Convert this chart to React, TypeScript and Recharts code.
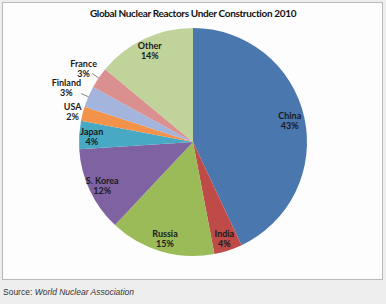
import React from "react";
import { PieChart, Pie, Cell } from "recharts";

const countries = ["China", "India", "Russia", "S. Korea", "Japan", "USA", "Finland", "France", "Other"];
const shares = [43, 4, 15, 12, 4, 2, 3, 3, 14];

const COLORS = ["#4A77AE", "#BE4B48", "#9ABB57", "#7E62A1", "#48A9C4", "#F3924A", "#A3B5DC", "#D9908F", "#C0D39A"];

// how far out each label sits, as a fraction of the radius
const LABEL_R = [0.87, 0.89, 0.88, 0.88, 0.89, 1.09, 1.21, 1.16, 0.89];
const RAD = Math.PI / 180;

const chartData = countries.map((name, i) => ({ name, value: shares[i] }));

const LABEL_FONT = "Lato, 'Open Sans', sans-serif";

const renderLabel = (props: any) => {
  const { cx, cy, midAngle, outerRadius, index } = props;
  const r = outerRadius * LABEL_R[index];
  const x = cx + r * Math.cos(-midAngle * RAD);
  const y = cy + r * Math.sin(-midAngle * RAD);
  return (
    <text
      x={x}
      y={y}
      textAnchor="middle"
      fill="#1a1a1a"
      style={{ fontFamily: LABEL_FONT, fontSize: 9, fontWeight: 700 }}
    >
      <tspan x={x} dy={-1}>{countries[index]}</tspan>
      <tspan x={x} dy={10}>{shares[index]}%</tspan>
    </text>
  );
};

const renderLine = (props: any) => {
  const { cx, cy, midAngle, outerRadius, index } = props;
  if (countries[index] !== "Finland" && countries[index] !== "France") return <g />;
  const a = -midAngle * RAD;
  const x1 = cx + outerRadius * Math.cos(a);
  const y1 = cy + outerRadius * Math.sin(a);
  const x2 = cx + outerRadius * 1.07 * Math.cos(a);
  const y2 = cy + outerRadius * 1.07 * Math.sin(a);
  return <path d={`M${x1},${y1}L${x2},${y2}`} stroke="#888" strokeWidth={1} fill="none" />;
};

export default function App() {
  return (
    <div style={{ position: "fixed", left: 0, top: 0, width: 386, height: 304, background: "#eeeeee", overflow: "hidden" }}>
      <div
        style={{
          position: "absolute",
          left: 2,
          top: 2,
          width: 379,
          height: 276,
          background: "#fdfdfd",
          border: "1px solid #b9b9b9",
        }}
      />
      <div
        style={{
          position: "absolute",
          left: 0,
          top: 7,
          width: 386,
          textAlign: "center",
          fontFamily: LABEL_FONT,
          fontWeight: 700,
          fontSize: 10,
          letterSpacing: -0.35,
          color: "#111",
        }}
      >
        Global Nuclear Reactors Under Construction 2010
      </div>
      <div style={{ position: "absolute", left: 0, top: 0 }}>
        <PieChart width={386} height={284} margin={{ top: 0, right: 0, bottom: 0, left: 0 }}>
          <Pie
            data={chartData}
            dataKey="value"
            nameKey="name"
            cx={193}
            cy={142}
            outerRadius={114}
            startAngle={90}
            endAngle={-270}
            stroke="none"
            label={renderLabel}
            labelLine={renderLine}
            isAnimationActive={false}
          >
            {chartData.map((entry, idx) => (
              <Cell key={`cell-${idx}`} fill={COLORS[idx]} />
            ))}
          </Pie>
        </PieChart>
      </div>
      <div
        style={{
          position: "absolute",
          left: 3,
          top: 287,
          fontFamily: "'Liberation Sans', Arial, sans-serif",
          fontSize: 8.5,
          color: "#333",
        }}
      >
        Source: <i>World Nuclear Association</i>
      </div>
    </div>
  );
}
